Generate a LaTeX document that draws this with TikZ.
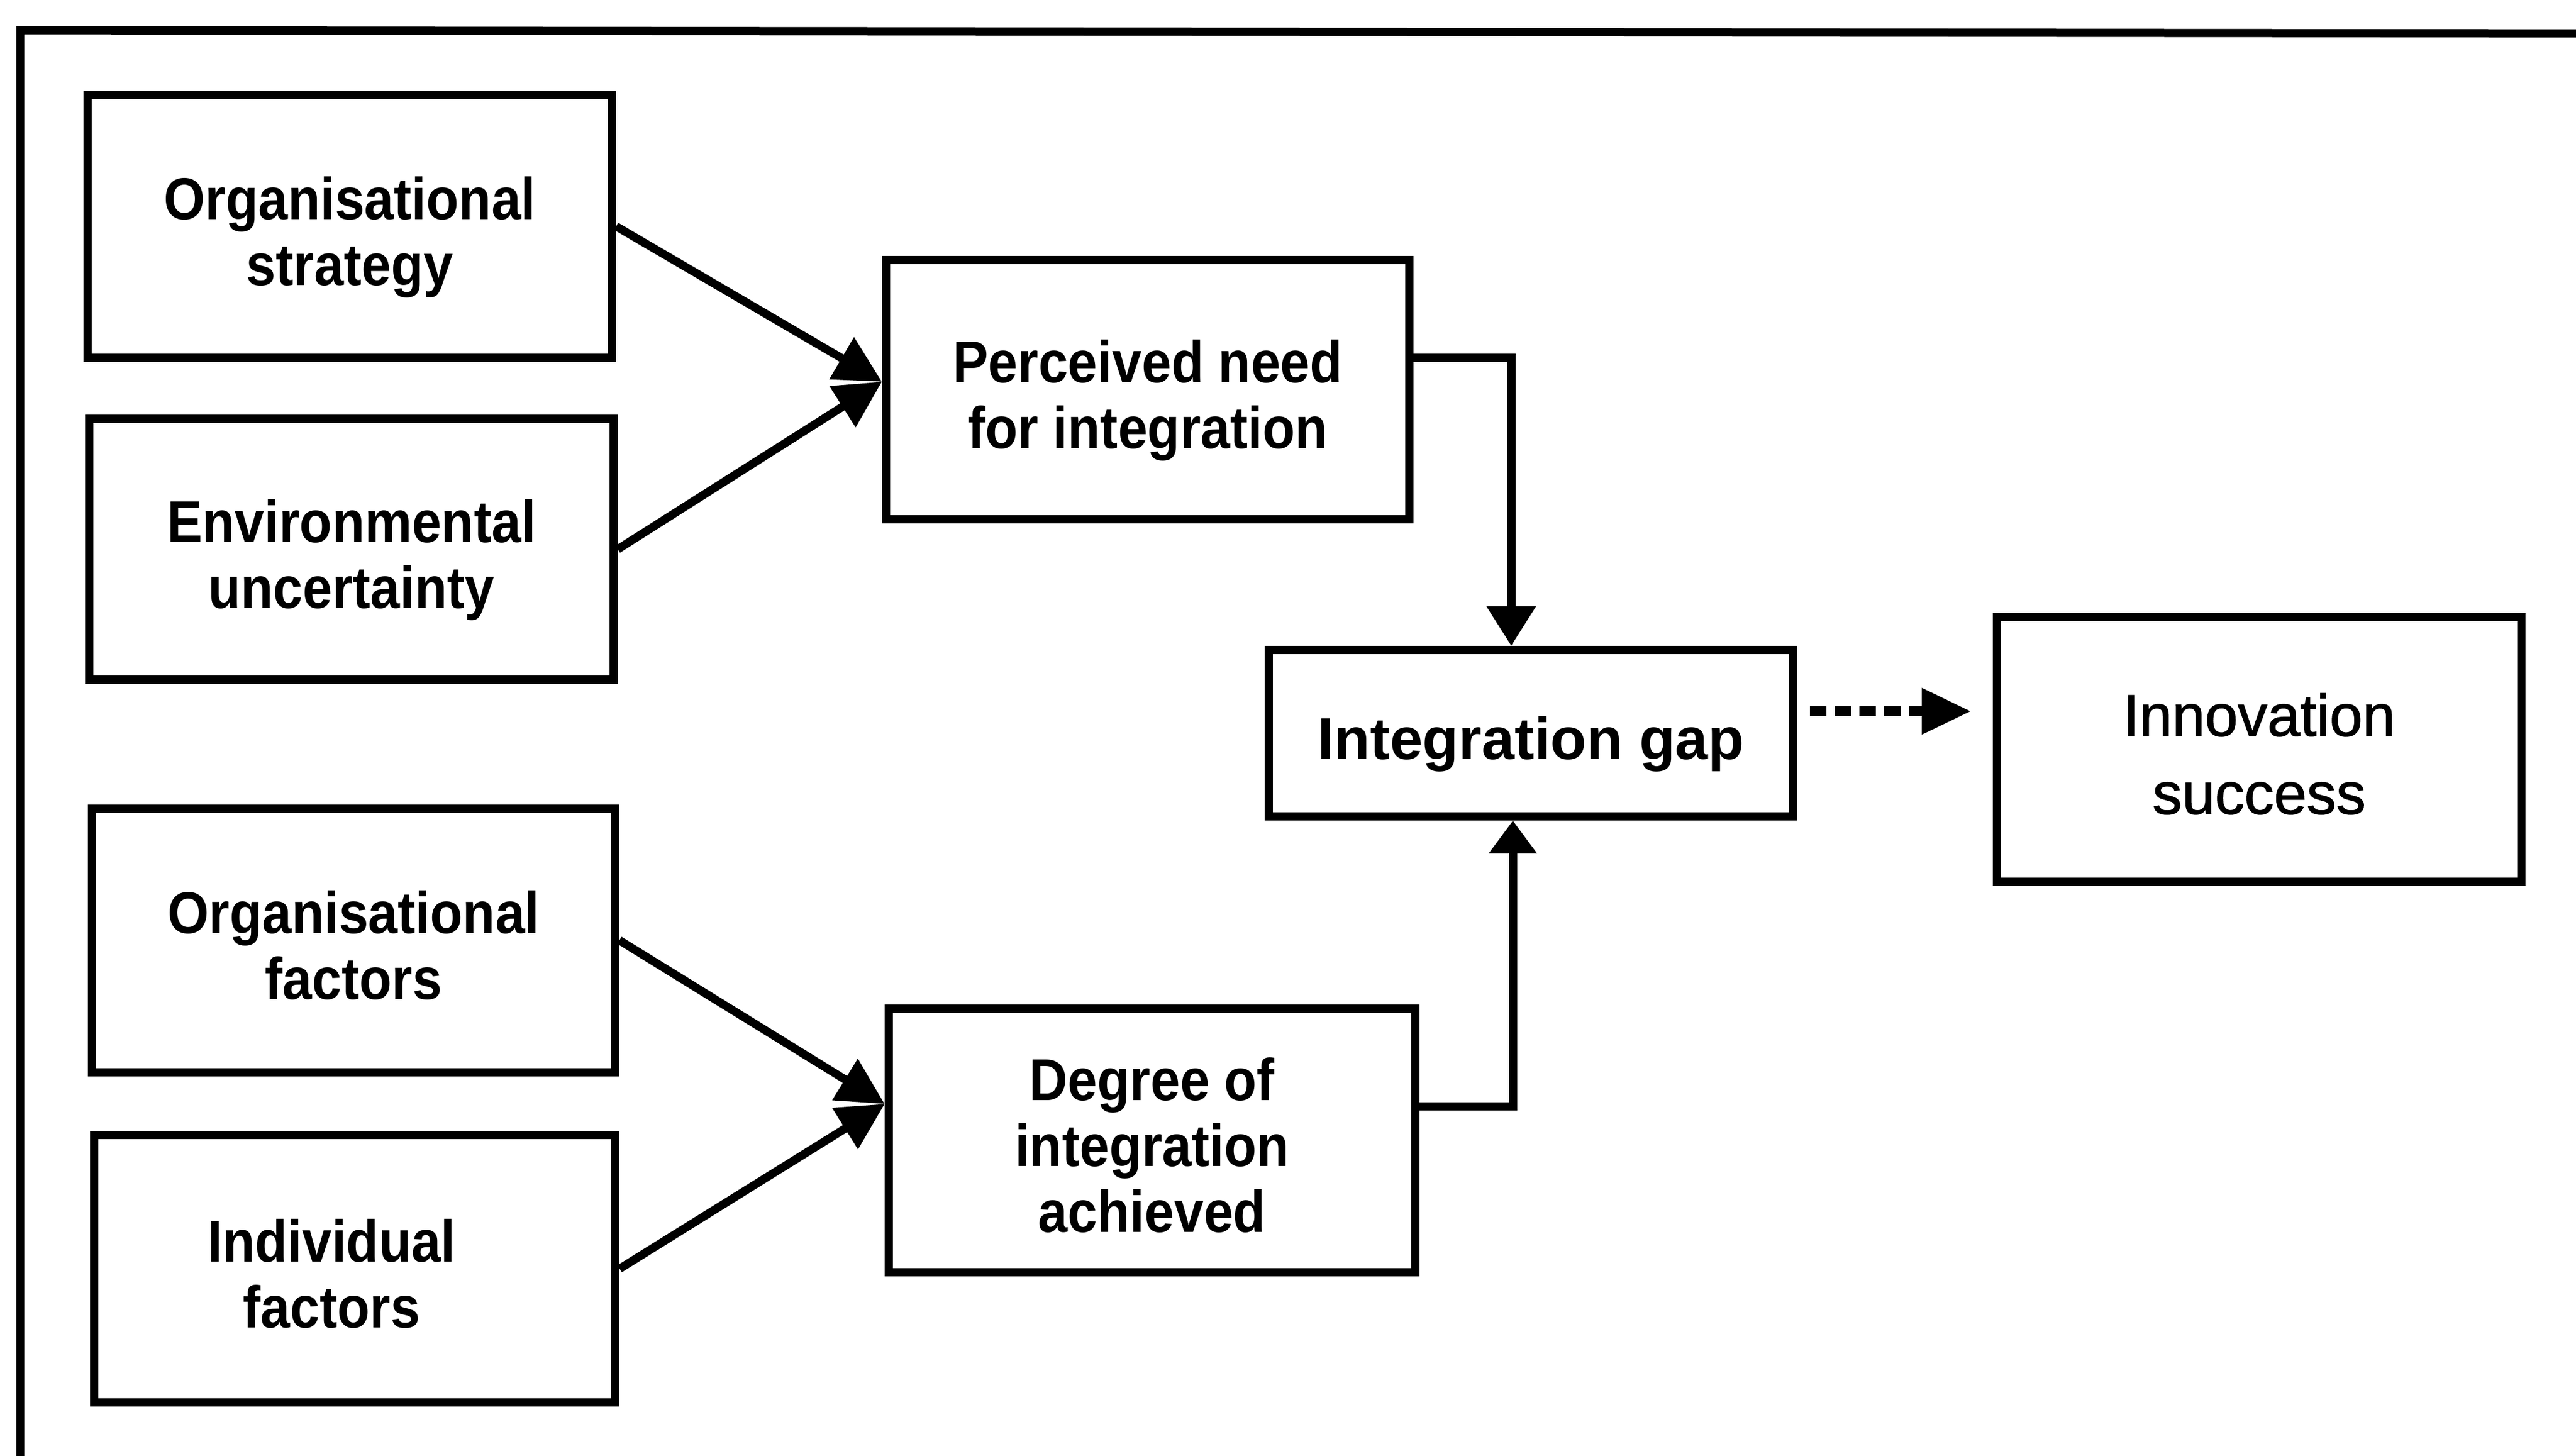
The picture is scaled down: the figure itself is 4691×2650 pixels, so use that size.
\documentclass[tikz,border=0pt]{standalone}
\usepackage{fontspec}
\setmainfont{Liberation Sans}
\newfontfamily\condfont[FakeStretch=0.9]{Liberation Sans}
\newfontfamily\medfont[FakeBold=1.2]{Liberation Sans}
\usetikzlibrary{arrows.meta,calc}
\newcommand{\tstr}{\rule{0pt}{11.7pt}}
\newcommand{\bstr}{\rule[-2.3pt]{0pt}{2.3pt}}
\begin{document}
\begin{tikzpicture}[x=0.1pt,y=-0.1pt,
  box/.style={draw,line width=1.5pt,inner sep=0pt,align=center,
    font=\condfont\bfseries\fontsize{10.75pt}{12pt}\selectfont},
  boxtext/.style={inner sep=0pt,align=center,
    font=\condfont\bfseries\fontsize{10.75pt}{12pt}\selectfont},
  conn/.style={line width=1.5pt},
  framestyle/.style={line width=1.5pt},
  joinarrow/.style={conn,-{Triangle[length=8.5pt,width=8.5pt]}},
  dashconn/.style={line width=1.8pt,dash pattern=on 3pt off 1.5pt,-{Triangle[length=9pt,width=8pt]}}]
\useasboundingbox (0,0) rectangle (4691,2650);
% frame (open at bottom and right)
\draw[framestyle] (37,2720) -- (37,55) -- (4760,61);
% boxes
\node[box,minimum width=95.5pt,minimum height=47.9pt] (orgstrat) at (637,412) {\tstr Organisational\\strategy\bstr};
\node[box,minimum width=95.5pt,minimum height=47.5pt] (envunc) at (640,1000) {\tstr Environmental\\uncertainty\bstr};
\node[box,minimum width=95.3pt,minimum height=48.0pt] (orgfact) at (644,1712) {\tstr Organisational\\factors\bstr};
\node[box,minimum width=95.0pt,minimum height=48.7pt] (indfact) at (646,2310) {};
\node[boxtext] (indfacttext) at ($(indfact)+(-42,0)$) {\tstr Individual\\factors\bstr};
\node[box,minimum width=95.3pt,minimum height=47.2pt] (perceived) at (2090,709) {\tstr Perceived need\\for integration\bstr};
\node[box,minimum width=95.9pt,minimum height=48.0pt] (degree) at (2098,2076) {\tstr Degree of\\integration\\achieved\bstr};
\node[box,minimum width=95.6pt,minimum height=30.3pt,
  font=\normalfont\bfseries\fontsize{10.75pt}{12pt}\selectfont] (gap) at (2788,1335) {\tstr Integration gap\bstr};
\node[box,minimum width=95.6pt,minimum height=48.2pt,
  font=\medfont\fontsize{10.75pt}{14.2pt}\selectfont] (innov) at (4114,1364) {\tstr Innovation\\success\bstr};
% converging connectors
\coordinate (tipA) at ($(perceived.west)+(0,-14)$);
\draw[joinarrow] (orgstrat.east) -- (tipA);
\draw[joinarrow] (envunc.east) -- (tipA);
\coordinate (tipB) at ($(degree.west)+(0,-66)$);
\draw[joinarrow] (orgfact.east) -- (tipB);
\draw[joinarrow] (indfact.east) -- (tipB);
% into the integration gap
\coordinate (pOut) at ($(perceived.east)+(0,-58)$);
\coordinate (gapTop) at ($(gap.north)+(-36,0)$);
\draw[conn,-{Triangle[length=7.2pt,width=8.6pt]}] (pOut) -| (gapTop);
\coordinate (dOut) at ($(degree.east)+(0,-62)$);
\coordinate (gapBot) at ($(gap.south)+(-33,0)$);
\draw[conn,-{Triangle[length=6pt,width=8.4pt]}] (dOut) -| (gapBot);
% dashed link to innovation success
\coordinate (dA) at ($(gap.east)+(23,-40)$);
\coordinate (dB) at ($(innov.west)+(-39,0)$);
\draw[dashconn] (dA) -- (dA -| dB);
\end{tikzpicture}
\end{document}
